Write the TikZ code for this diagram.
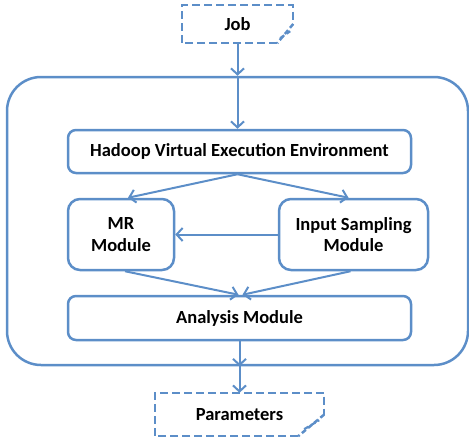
\documentclass[tikz,border=0pt]{standalone}
\usepackage{fontspec}
\setmainfont{Carlito}
\usetikzlibrary{arrows.meta,calc}
\definecolor{lineblue}{RGB}{92,142,200}
\begin{document}
\begin{tikzpicture}[x=1pt,y=-1pt,
  box/.style={draw=lineblue,line width=2.5pt,rounded corners=8pt,align=center,font=\bfseries\fontsize{18.5}{21.5}\selectfont,inner sep=0pt},
  notebox/.style={align=center,font=\bfseries\fontsize{18.5}{21.5}\selectfont,inner sep=0pt},
  notedash/.style={draw=lineblue,line width=2.5pt,dash pattern=on 8pt off 4pt},
  conn/.style={draw=lineblue,line width=2pt,-{Straight Barb[length=6pt,width=13pt,line width=2pt]}}]
\useasboundingbox (0,0) rectangle (469,439);
% outer environment
\node[draw=lineblue,line width=2.5pt,rounded corners=34pt,minimum width=461pt,minimum height=288pt,inner sep=0pt] (env) at (237.5,221) {};
% notes
\node[notebox,minimum width=111pt,minimum height=38pt] (job) at (237.5,24) {Job};
\draw[notedash] ($(job.south east)+(-16,0)$) -- (job.south west) -- (job.north west) -- (job.north east) -- (job.east);
\draw[notedash,dash pattern=on 5pt off 3pt] (job.east) -- ($(job.south east)+(-16,0)$);
\draw[lineblue,line width=2.2pt,dash pattern=on 5pt off 3pt] ($(job.south east)+(-13,-5)$) -- ($(job.south east)+(-3,-12)$);
\node[notebox,minimum width=169pt,minimum height=43pt] (par) at (239.5,414.5) {Parameters};
\draw[notedash] ($(par.south east)+(-26,0)$) -- (par.south west) -- (par.north west) -- (par.north east) -- (par.east);
\draw[notedash,dash pattern=on 5pt off 3pt] (par.east) -- ($(par.south east)+(-26,0)$);
\draw[lineblue,line width=2.2pt,dash pattern=on 5pt off 3pt] ($(par.south east)+(-20,-7)$) -- ($(par.south east)+(-5,-16)$);
% inner boxes
\node[box,minimum width=343pt,minimum height=43pt] (hadoop) at (239.5,151.5) {Hadoop Virtual Execution Environment};
\node[box,minimum width=106pt,minimum height=71pt,rounded corners=12pt] (mr) at (121,234.5) {MR\\Module};
\node[box,minimum width=149pt,minimum height=71pt,rounded corners=12pt] (is) at (353.5,234.5) {Input Sampling\\Module};
\node[box,minimum width=343pt,minimum height=44pt] (ana) at (239.5,318) {Analysis Module};
% connectors
\coordinate (envtop) at (job.south |- env.north);
\coordinate (envbot) at (ana.south |- env.south);
\draw[conn] (job.south) -- (envtop);
\draw[conn] (envtop) -- (hadoop.north -| envtop);
\draw[conn] ([xshift=-2pt]hadoop.south) -- ([xshift=7pt]mr.north);
\draw[conn] ([xshift=-2pt]hadoop.south) -- ([xshift=-5pt]is.north);
\draw[conn] (is.west) -- (mr.east);
\draw[conn] ([xshift=4pt]mr.south) -- ([xshift=-1pt]ana.north);
\draw[conn] ([xshift=-3pt]is.south) -- ([xshift=3pt]ana.north);
\draw[conn] (ana.south) -- (envbot);
\draw[conn] (envbot) -- (par.north);
\end{tikzpicture}
\end{document}
